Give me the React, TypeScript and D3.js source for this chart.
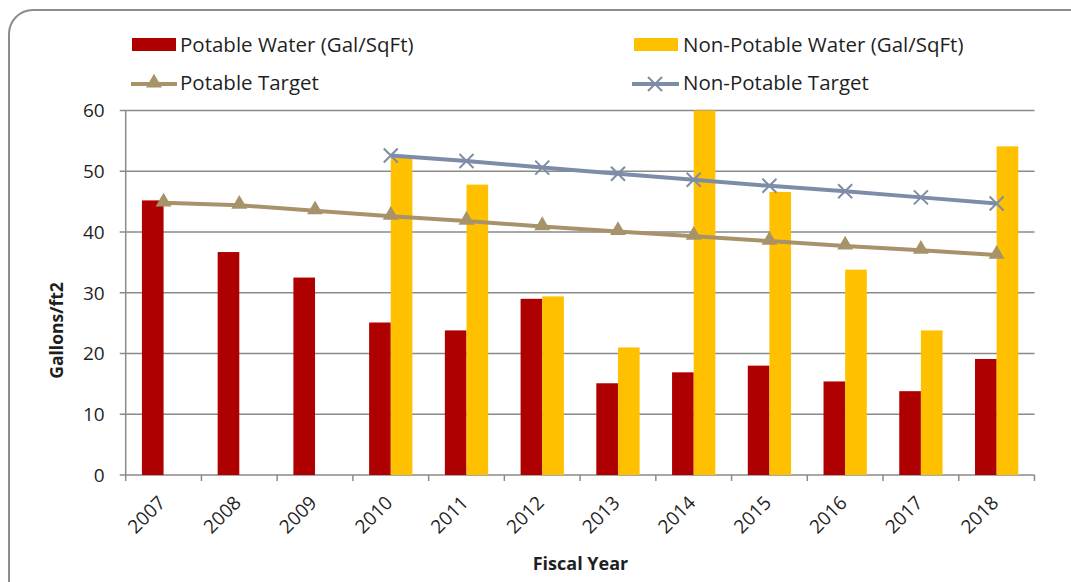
import React from "react";
import * as d3 from "d3";

const years = ["2007","2008","2009","2010","2011","2012","2013","2014","2015","2016","2017","2018"];
const potable = [45.2, 36.7, 32.5, 25.1, 23.8, 29.0, 15.1, 16.9, 18.0, 15.4, 13.8, 19.1];
const nonPotable: (number | null)[] = [null, null, null, 52.3, 47.8, 29.4, 21.0, 61.0, 46.6, 33.8, 23.8, 54.1];
const potableTarget = [44.8, 44.4, 43.5, 42.6, 41.8, 40.9, 40.1, 39.3, 38.5, 37.7, 37.0, 36.2];
const nonPotableTarget: (number | null)[] = [null, null, null, 52.6, 51.7, 50.6, 49.6, 48.6, 47.6, 46.7, 45.7, 44.7];
const yTicks = [0, 10, 20, 30, 40, 50, 60];

const W = 1071, H = 582;
const left = 125.7, right = 1034.5, top = 110.5, bottom = 475;
const RED = "#AE0000", YEL = "#FFC000", TAN = "#A8926A", BLU = "#7D8CA8";
const GRID = "#8A8A8A";
const FONT = "'Open Sans', Lato, sans-serif";
const TXT = "#1f1f1f";
const FS = 19;
const LFS = 20.5;

export default function App() {
  const x = d3.scaleBand<string>().domain(years).range([left, right]).paddingInner(0).paddingOuter(0);
  const y = d3.scaleLinear().domain([0, 60]).range([bottom, top]);
  const bw = x.bandwidth() / 3.5;
  const cx = (i: number) => (x(years[i]) as number) + x.bandwidth() / 2;
  const lineGen = d3.line<[number, number | null]>()
    .defined(d => d[1] != null)
    .x(d => d[0]).y(d => y(d[1] as number));
  const tri = d3.symbol().type(d3.symbolTriangle).size(110)();
  const xs = 7;
  const xMark = (px: number, py: number) =>
    `M${px - xs},${py - xs}L${px + xs},${py + xs}M${px - xs},${py + xs}L${px + xs},${py - xs}`;
  return (
    <svg width={W} height={H} style={{ position: "absolute", left: 0, top: 0, background: "#fff" }}
      fontFamily={FONT}>
      <defs>
        <clipPath id="plot"><rect x={left} y={top} width={right - left} height={bottom - top} /></clipPath>
      </defs>
      <rect x={9} y={10} width={1100} height={600} rx={24} ry={24} fill="#fff" stroke="#8C8C8C" strokeWidth={2} />
      {/* gridlines */}
      {yTicks.map(t => (
        <g key={t}>
          <line x1={left - 6} x2={right} y1={y(t)} y2={y(t)} stroke={GRID} strokeWidth={1.5} />
          <text x={left - 21} y={y(t)} dy="0.36em" textAnchor="end" fontSize={FS} fill={TXT}>{t}</text>
        </g>
      ))}
      <line x1={left} x2={left} y1={top} y2={bottom} stroke={GRID} strokeWidth={1.5} />
      {years.map((yr) => (
        <line key={"t" + yr} x1={x(yr) as number} x2={x(yr) as number} y1={bottom} y2={bottom + 6} stroke={GRID} strokeWidth={1.5} />
      ))}
      <line x1={right} x2={right} y1={bottom} y2={bottom + 6} stroke={GRID} strokeWidth={1.5} />
      {/* bars */}
      <g clipPath="url(#plot)">
        {potable.map((v, i) => (
          <rect key={"p" + i} x={cx(i) - bw} y={y(v)} width={bw} height={bottom - y(v)} fill={RED} />
        ))}
        {nonPotable.map((v, i) => v == null ? null : (
          <rect key={"n" + i} x={cx(i)} y={y(v)} width={bw} height={bottom - y(v)} fill={YEL} />
        ))}
      </g>
      {/* lines */}
      <path d={lineGen(potableTarget.map((v, i) => [cx(i), v] as [number, number | null])) || ""} fill="none" stroke={TAN} strokeWidth={4} />
      {potableTarget.map((v, i) => (
        <path key={"pt" + i} d={tri || ""} transform={`translate(${cx(i)},${y(v) - 1})`} fill={TAN} />
      ))}
      <path d={lineGen(nonPotableTarget.map((v, i) => [cx(i), v] as [number, number | null])) || ""} fill="none" stroke={BLU} strokeWidth={4} />
      {nonPotableTarget.map((v, i) => v == null ? null : (
        <path key={"nt" + i} d={xMark(cx(i), y(v))} stroke={BLU} strokeWidth={2} fill="none" />
      ))}
      {/* x labels */}
      {years.map((yr, i) => (
        <text key={"xl" + yr} transform={`translate(${cx(i) + 3},${bottom + 29}) rotate(-45)`} textAnchor="end"
          fontSize={FS} fill={TXT}>{yr}</text>
      ))}
      {/* axis titles */}
      <text transform={`translate(63,330.5) rotate(-90)`} textAnchor="middle" fontSize={17.5} fontWeight="bold" fill={TXT}>Gallons/ft2</text>
      <text x={580.5} y={570} textAnchor="middle" fontSize={18} fontWeight="bold" fill={TXT}>Fiscal Year</text>
      {/* legend */}
      <rect x={132} y={38} width={44} height={13} fill={RED} />
      <text x={180} y={51.5} fontSize={LFS} fill={TXT}>Potable Water (Gal/SqFt)</text>
      <rect x={634} y={38} width={44} height={13} fill={YEL} />
      <text x={683} y={51.5} fontSize={LFS} fill={TXT}>Non-Potable Water (Gal/SqFt)</text>
      <line x1={131} x2={177} y1={84} y2={84} stroke={TAN} strokeWidth={4} />
      <path d={tri || ""} transform="translate(154,83)" fill={TAN} />
      <text x={180} y={90} fontSize={LFS} fill={TXT}>Potable Target</text>
      <line x1={632} x2={679} y1={84} y2={84} stroke={BLU} strokeWidth={4} />
      <path d={xMark(655, 84)} stroke={BLU} strokeWidth={2} />
      <text x={683} y={90} fontSize={LFS} fill={TXT}>Non-Potable Target</text>
    </svg>
  );
}
